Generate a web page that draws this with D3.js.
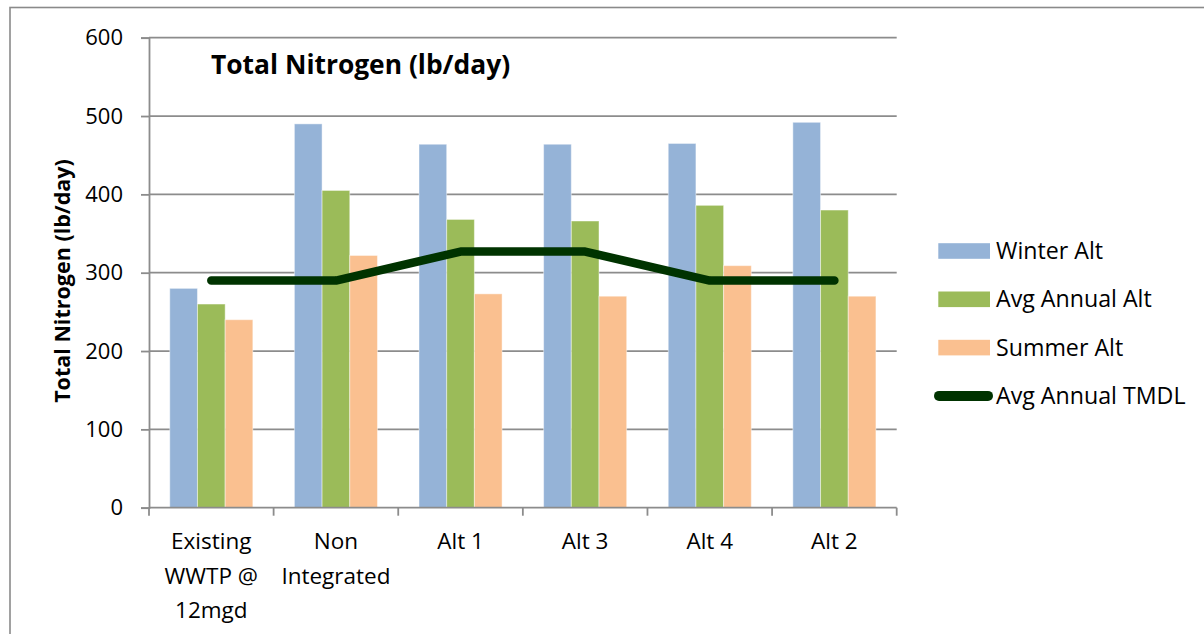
<!DOCTYPE html>
<html>
<head>
<meta charset="utf-8">
<script src="https://cdn.jsdelivr.net/npm/d3@7"></script>
<style>
  html, body { margin: 0; padding: 0; background: #ffffff; }
  svg { display: block; font-family: "Open Sans", "DejaVu Sans", sans-serif; }
</style>
</head>
<body>
<svg id="chart" width="1204" height="634"></svg>
<script>
// Categories and series (lb/day)
const categories = ["Existing\nWWTP @\n12mgd", "Non\nIntegrated", "Alt 1", "Alt 3", "Alt 4", "Alt 2"];
const winterAlt = [280, 490, 464, 464, 465, 492];
const avgAnnualAlt = [260, 405, 368, 366, 386, 380];
const summerAlt = [240, 322, 273, 270, 309, 270];
const avgAnnualTMDL = [290, 290, 327, 327, 290, 290];
const yTicks = [0, 100, 200, 300, 400, 500, 600];

const barSeries = [
  { name: "Winter Alt", values: winterAlt, color: "#95b3d7" },
  { name: "Avg Annual Alt", values: avgAnnualAlt, color: "#9bbb59" },
  { name: "Summer Alt", values: summerAlt, color: "#fac090" }
];
const lineSeries = { name: "Avg Annual TMDL", values: avgAnnualTMDL, color: "#003300" };

const svg = d3.select("#chart");
const plot = { left: 149, right: 896.7, top: 37.7, bottom: 507.7 };

// Outer chart frame (runs off the right and bottom edges)
svg.append("rect")
  .attr("x", 10).attr("y", 7.5)
  .attr("width", 1300).attr("height", 700)
  .attr("fill", "none").attr("stroke", "#8a8a8a").attr("stroke-width", 1.6);

const x = d3.scaleBand()
  .domain(d3.range(categories.length))
  .range([plot.left, plot.right])
  .paddingInner(0).paddingOuter(0);

// Gap width of 150% of a bar: each slot holds 3 bars + 1.5 bars of gap
const barW = x.bandwidth() / (barSeries.length + 1.5);
const xInner = d3.scaleBand()
  .domain(d3.range(barSeries.length))
  .range([(x.bandwidth() - barW * barSeries.length) / 2, (x.bandwidth() + barW * barSeries.length) / 2])
  .padding(0);

const y = d3.scaleLinear().domain([0, 600]).range([plot.bottom, plot.top]);

// Horizontal gridlines
svg.append("g")
  .selectAll("line")
  .data(yTicks.filter(d => d > 0))
  .join("line")
  .attr("x1", plot.left).attr("x2", plot.right)
  .attr("y1", d => y(d)).attr("y2", d => y(d))
  .attr("stroke", "#8c8c8c").attr("stroke-width", 1.8);

// Bars
barSeries.forEach((s, si) => {
  svg.append("g")
    .selectAll("rect")
    .data(s.values)
    .join("rect")
    .attr("x", (d, i) => x(i) + xInner(si))
    .attr("width", xInner.bandwidth())
    .attr("y", d => y(d))
    .attr("height", d => y(0) - y(d))
    .attr("fill", s.color)
    .attr("stroke", "#ffffff").attr("stroke-opacity", 0.45).attr("stroke-width", 1);
});

// Y axis
const yAxis = d3.axisLeft(y).tickValues(yTicks).tickSize(8).tickPadding(18).tickFormat(d3.format("d"));
const gy = svg.append("g").attr("transform", `translate(${plot.left},0)`).call(yAxis);
gy.select(".domain").attr("stroke", "#8c8c8c").attr("stroke-width", 1.8);
gy.selectAll(".tick line").attr("stroke", "#8c8c8c").attr("stroke-width", 1.8);
gy.selectAll(".tick text").attr("font-size", 22).attr("fill", "#000").attr("font-family", "Open Sans");

// X axis with ticks at category boundaries
const gx = svg.append("g").attr("transform", `translate(0,${plot.bottom})`);
gx.append("line")
  .attr("x1", plot.left).attr("x2", plot.right)
  .attr("stroke", "#8c8c8c").attr("stroke-width", 1.8);
gx.selectAll("line.tick")
  .data(d3.range(categories.length + 1))
  .join("line")
  .attr("class", "tick")
  .attr("x1", i => i < categories.length ? x(i) : plot.right)
  .attr("x2", i => i < categories.length ? x(i) : plot.right)
  .attr("y1", 0).attr("y2", 8)
  .attr("stroke", "#8c8c8c").attr("stroke-width", 1.8);

const catLabels = svg.append("g")
  .selectAll("text")
  .data(categories)
  .join("text")
  .attr("x", (d, i) => x(i) + x.bandwidth() / 2)
  .attr("y", 549)
  .attr("text-anchor", "middle")
  .attr("font-size", 22.5)
  .attr("fill", "#000");
catLabels.each(function(d) {
  const t = d3.select(this);
  d.split("\n").forEach((line, li) => {
    t.append("tspan")
      .attr("x", t.attr("x"))
      .attr("dy", li === 0 ? 0 : 34.5)
      .text(line);
  });
});

// TMDL line through category centres
const line = d3.line()
  .x((d, i) => x(i) + x.bandwidth() / 2)
  .y(d => y(d));
svg.append("path")
  .datum(lineSeries.values)
  .attr("d", line)
  .attr("fill", "none")
  .attr("stroke", lineSeries.color)
  .attr("stroke-width", 8.5)
  .attr("stroke-linecap", "round")
  .attr("stroke-linejoin", "round");

// Title inside the plot
svg.append("text")
  .attr("x", 211).attr("y", 73.5)
  .attr("font-size", 26.4).attr("font-weight", "bold").attr("fill", "#000")
  .text("Total Nitrogen (lb/day)");

// Y axis title
svg.append("text")
  .attr("transform", "translate(70,281) rotate(-90)")
  .attr("text-anchor", "middle")
  .attr("font-size", 21.5).attr("font-weight", "bold").attr("fill", "#000")
  .text("Total Nitrogen (lb/day)");

// Legend
const legendRows = barSeries.map(s => ({ name: s.name, color: s.color, type: "bar" }))
  .concat([{ name: lineSeries.name, color: lineSeries.color, type: "line" }]);
const legend = svg.append("g");
legendRows.forEach((r, i) => {
  const cy = 251 + i * 48.3;
  if (r.type === "bar") {
    legend.append("rect")
      .attr("x", 938.3).attr("y", cy - 7.8)
      .attr("width", 51.7).attr("height", 15.6)
      .attr("fill", r.color);
  } else {
    legend.append("line")
      .attr("x1", 939).attr("x2", 988)
      .attr("y1", cy).attr("y2", cy)
      .attr("stroke", r.color).attr("stroke-width", 10)
      .attr("stroke-linecap", "round");
  }
  legend.append("text")
    .attr("x", 996).attr("y", cy + 8)
    .attr("font-size", 23.2).attr("fill", "#000")
    .text(r.name);
});
</script>
</body>
</html>
